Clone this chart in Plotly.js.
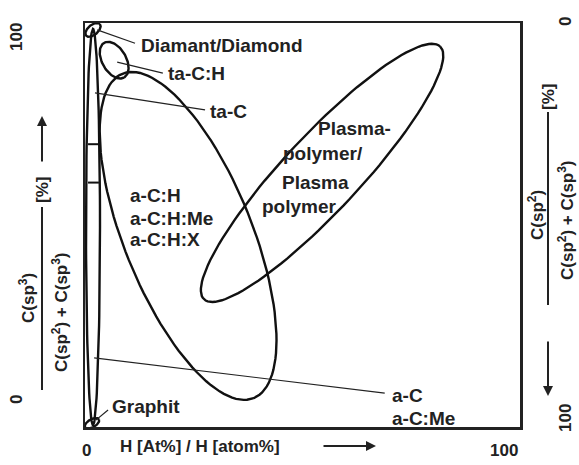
<!DOCTYPE html>
<html>
<head>
<meta charset="utf-8">
<script src="https://cdn.plot.ly/plotly-3.0.1.min.js"></script>
<style>body{margin:0;background:#fff}#chart{width:579px;height:465px}</style>
</head>
<body>
<div id="chart"></div>
<script>
// plot area in screen pixels (used to keep ellipse rotation in screen space)
const PX_X = 4.35; // px per data unit, x
const PX_Y = 4.04; // px per data unit, y

// regions: centre (data units), semi-axes (px), rotation (deg, screen, clockwise)
const regionNames = ["a-C", "Diamant", "Graphit", "ta-C:H", "a-C:H", "Plasma"];
const regionCx = [1.84, 1.84, 1.6, 6.7, 23.7, 54.5];
const regionCy = [49.5, 98.3, 0.9, 90.8, 47.3, 62.9];
const regionA = [7, 9, 8, 20, 175, 173];
const regionB = [198, 5, 4, 12, 64, 38];
const regionRot = [0, -40, -30, 60, 68, -47];

const labelText = ["Diamant/Diamond", "ta-C:H", "ta-C", "a-C:H", "a-C:H:Me", "a-C:H:X",
  "a-C", "a-C:Me", "Graphit"];
const labelX = [12.4, 18.6, 28.3, 9.9, 9.9, 9.9, 70.1, 70.1, 5.7];
const labelY = [94.4, 87.6, 78, 57.2, 51.7, 46.3, 7.9, 2.2, 5];

const plasmaText = ["Plasma-", "polymer/", "Plasma", "polymer"];
const plasmaX = [62, 54.7, 53.1, 49.4];
const plasmaY = [74, 67.8, 60.6, 54.5];

// leader lines: [x0, y0, x1, y1]
const leaders = [
  [2.8, 98.3, 11.5, 95],
  [7.4, 90.3, 17.9, 87.6],
  [2.3, 82.7, 27.6, 78.5],
  [2.1, 17.1, 68.9, 8.4],
  [2.5, 1.7, 5.3, 4.2],
];
const bandY = [70, 60.5];

function ellipse(i) {
  const th = regionRot[i] * Math.PI / 180;
  const xs = [], ys = [];
  for (let k = 0; k <= 120; k++) {
    const t = 2 * Math.PI * k / 120;
    const dx = regionA[i] * Math.cos(t) * Math.cos(th) - regionB[i] * Math.sin(t) * Math.sin(th);
    const dy = regionA[i] * Math.cos(t) * Math.sin(th) + regionB[i] * Math.sin(t) * Math.cos(th);
    xs.push(regionCx[i] + dx / PX_X);
    ys.push(regionCy[i] - dy / PX_Y);
  }
  return { x: xs, y: ys, mode: "lines", type: "scatter", line: { color: "#111", width: 2.4 },
    hoverinfo: "skip", name: regionNames[i], cliponaxis: false };
}

const data = regionNames.map((_, i) => ellipse(i));
const font = { family: "Liberation Sans, Arial", size: 19, color: "#222" };
const axFont = { family: "Liberation Sans, Arial", size: 17, color: "#222" };

const annotations = labelText.map((t, i) => ({
  x: labelX[i], y: labelY[i], text: "<b>" + t + "</b>", showarrow: false,
  xanchor: "left", yanchor: "middle", font,
}));
plasmaText.forEach((t, i) => annotations.push({
  x: plasmaX[i], y: plasmaY[i], text: "<b>" + t + "</b>", showarrow: false, font,
}));

const paper = (x, y, text, angle, extra = {}) => ({
  xref: "paper", yref: "paper", x: (x - 85) / 435, y: (427 - y) / 404, text: "<b>" + text + "</b>",
  showarrow: false, textangle: angle, font: axFont, xanchor: "center", yanchor: "middle", ...extra,
});
annotations.push(
  paper(16, 37, "100", -90), paper(16, 400, "0", -90),
  paper(565, 22, "0", -90), paper(565, 418, "100", -90),
  paper(86, 450, "0", 0), paper(504, 450, "100", 0),
  paper(118, 446, "H [At%] / H [atom%]", 0, { xanchor: "left" }),
  paper(27, 298, "C(sp<sup>3</sup>)", -90),
  paper(60, 312, "C(sp<sup>2</sup>) + C(sp<sup>3</sup>)", -90),
  paper(42, 190, "[%]", -90),
  paper(536, 215, "C(sp<sup>2</sup>)", -90),
  paper(566, 220, "C(sp<sup>2</sup>) + C(sp<sup>3</sup>)", -90),
  paper(548, 97, "[%]", -90),
);

const pline = (x0, y0, x1, y1) => ({
  type: "line", xref: "paper", yref: "paper", x0: (x0 - 85) / 435, y0: (427 - y0) / 404,
  x1: (x1 - 85) / 435, y1: (427 - y1) / 404, line: { color: "#222", width: 2 },
});
const shapes = leaders.map((l) => ({ type: "line", x0: l[0], y0: l[1], x1: l[2], y1: l[3],
  line: { color: "#222", width: 1.2 } }));
bandY.forEach((y) => shapes.push({ type: "line", x0: 0.7, x1: 3.2, y0: y, y1: y,
  line: { color: "#111", width: 2 } }));
shapes.push(
  pline(42, 207, 42, 390),
  pline(548, 112, 548, 305),
);
// arrows
const arrow = (x0, y0, x1, y1) => ({
  xref: "paper", yref: "paper", axref: "paper", ayref: "paper",
  ax: (x0 - 85) / 435, ay: (427 - y0) / 404, x: (x1 - 85) / 435, y: (427 - y1) / 404,
  showarrow: true, arrowhead: 2, arrowsize: 1, arrowwidth: 2, arrowcolor: "#222", text: "",
});
annotations.push(arrow(42, 163, 42, 116), arrow(548, 340, 548, 396), arrow(322, 446, 376, 446));

const axis = { range: [0, 100], showgrid: false, zeroline: false, showticklabels: false,
  ticks: "", showline: true, mirror: true, linecolor: "#222", linewidth: 2.5, fixedrange: true };

Plotly.newPlot("chart", data, {
  width: 579, height: 465, showlegend: false,
  margin: { l: 85, r: 59, t: 23, b: 38 },
  paper_bgcolor: "#fff", plot_bgcolor: "#fff",
  xaxis: axis, yaxis: axis, annotations, shapes,
}, { displayModeBar: false, staticPlot: true });
</script>
</body>
</html>
